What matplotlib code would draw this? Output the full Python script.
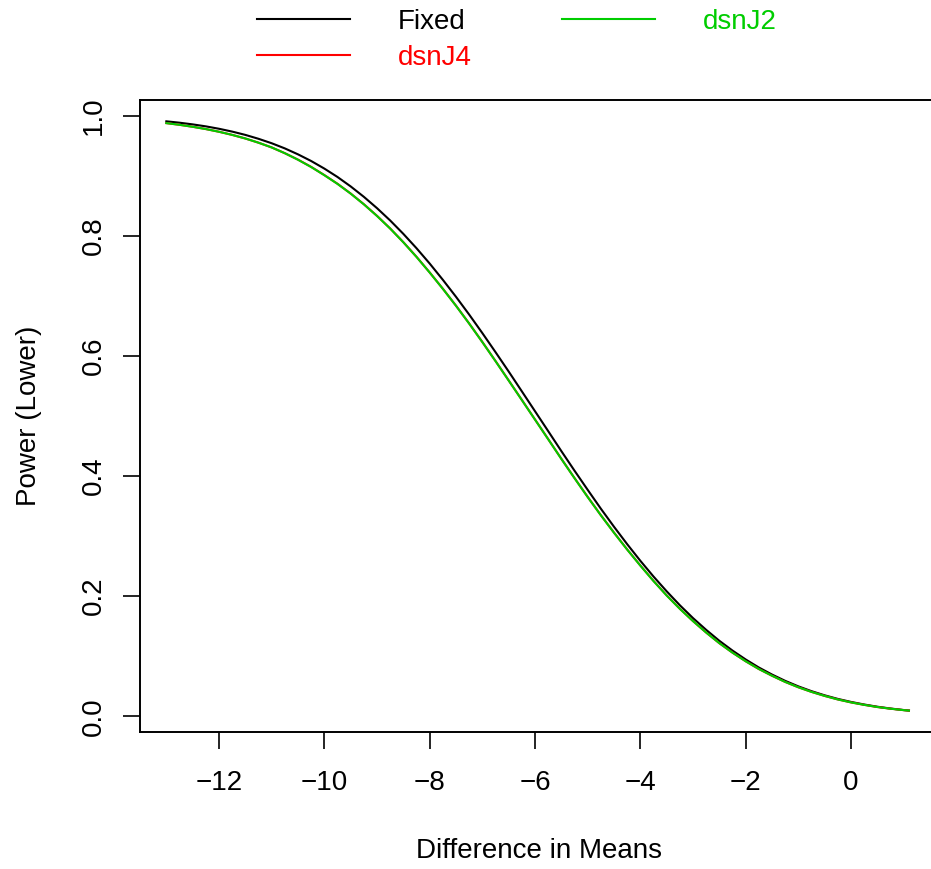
import matplotlib
matplotlib.use('Agg')
import matplotlib.pyplot as plt

# diferenca nas medias (eixo x)
diferenca = [-13.0, -12.75, -12.5, -12.25, -12.0, -11.75, -11.5, -11.25, -11.0, -10.75,
             -10.5, -10.25, -10.0, -9.75, -9.5, -9.25, -9.0, -8.75, -8.5, -8.25,
             -8.0, -7.75, -7.5, -7.25, -7.0, -6.75, -6.5, -6.25, -6.0, -5.75,
             -5.5, -5.25, -5.0, -4.75, -4.5, -4.25, -4.0, -3.75, -3.5, -3.25,
             -3.0, -2.75, -2.5, -2.25, -2.0, -1.75, -1.5, -1.25, -1.0, -0.75,
             -0.5, -0.25, 0.0, 0.25, 0.5, 0.75, 1.0, 1.1]

# poder (lower) de cada desenho
poder_fixed = [0.9907, 0.9884, 0.9856, 0.9823, 0.9783, 0.9736, 0.9681, 0.9616, 0.9542, 0.9456,
               0.9357, 0.9246, 0.9120, 0.8980, 0.8823, 0.8650, 0.8461, 0.8256, 0.8033, 0.7794,
               0.7539, 0.7268, 0.6985, 0.6689, 0.6381, 0.6064, 0.5741, 0.5411, 0.5080, 0.4749,
               0.4416, 0.4090, 0.3771, 0.3457, 0.3156, 0.2866, 0.2589, 0.2327, 0.2081, 0.1849,
               0.1635, 0.1439, 0.1257, 0.1094, 0.0946, 0.0812, 0.0695, 0.0590, 0.0498, 0.0418,
               0.0349, 0.0289, 0.0239, 0.0196, 0.0159, 0.0129, 0.0104, 0.0095]
poder_dsnJ4 = [0.9877, 0.9849, 0.9816, 0.9778, 0.9733, 0.9681, 0.9621, 0.9551, 0.9472, 0.9376,
               0.9269, 0.9148, 0.9012, 0.8867, 0.8705, 0.8527, 0.8333, 0.8123, 0.7895, 0.7651,
               0.7391, 0.7120, 0.6837, 0.6541, 0.6233, 0.5916, 0.5593, 0.5268, 0.4942, 0.4616,
               0.4288, 0.3967, 0.3653, 0.3349, 0.3058, 0.2778, 0.2511, 0.2254, 0.2013, 0.1791,
               0.1585, 0.1394, 0.1217, 0.1059, 0.0916, 0.0787, 0.0675, 0.0572, 0.0483, 0.0406,
               0.0339, 0.0280, 0.0231, 0.0190, 0.0154, 0.0126, 0.0102, 0.0095]
poder_dsnJ2 = [0.9877, 0.9849, 0.9816, 0.9778, 0.9733, 0.9681, 0.9621, 0.9551, 0.9472, 0.9376,
               0.9267, 0.9146, 0.9010, 0.8865, 0.8703, 0.8525, 0.8331, 0.8121, 0.7893, 0.7649,
               0.7389, 0.7118, 0.6835, 0.6539, 0.6231, 0.5914, 0.5591, 0.5266, 0.4940, 0.4614,
               0.4286, 0.3965, 0.3651, 0.3347, 0.3056, 0.2776, 0.2509, 0.2252, 0.2011, 0.1789,
               0.1585, 0.1394, 0.1217, 0.1059, 0.0916, 0.0787, 0.0675, 0.0572, 0.0483, 0.0406,
               0.0339, 0.0280, 0.0231, 0.0190, 0.0154, 0.0126, 0.0102, 0.0095]

series = ['Fixed', 'dsnJ4', 'dsnJ2']
cores = ['black', '#FF0000', '#00CD00']

xticks = [-12, -10, -8, -6, -4, -2, 0]
yticks = [0.0, 0.2, 0.4, 0.6, 0.8, 1.0]


def main():
    plt.rcParams['font.family'] = ['Liberation Sans', 'DejaVu Sans']
    plt.rcParams['font.size'] = 20

    fig = plt.figure(figsize=(9.31, 8.69), dpi=100)
    # caixa do grafico estilo R (lado direito fica fora da figura)
    ax = fig.add_axes([140 / 931, 137 / 869, 798 / 931, 632 / 869])

    for nome, y, cor in zip(series, [poder_fixed, poder_dsnJ4, poder_dsnJ2], cores):
        ax.plot(diferenca, y, color=cor, lw=1.5, label=nome)

    ax.set_xlim(-13.50, 1.652)
    ax.set_ylim(-0.0262, 1.0262)

    ax.set_xticks(xticks)
    ax.set_xticklabels([str(t).replace('-', '\u2212') for t in xticks])
    ax.set_yticks(yticks)
    ax.set_yticklabels([f'{t:.1f}' for t in yticks], rotation=90, va='center')

    ax.tick_params(direction='out', length=12.2, width=1.2, pad=15)
    ax.tick_params(axis='y', pad=12)
    for lado in ['top', 'left', 'bottom']:
        ax.spines[lado].set_linewidth(1.4)
    ax.spines['right'].set_visible(False)

    ax.set_xlabel('Difference in Means')
    ax.xaxis.set_label_coords(0.5, -0.188)
    ax.xaxis.label.set_va('center')
    ax.set_ylabel('Power (Lower)')
    ax.yaxis.set_label_coords(-0.1392, 0.5)
    ax.yaxis.label.set_va('center')

    fig.legend(loc='upper left', bbox_to_anchor=(257 / 931, 1 - 9 / 869), ncol=2,
               frameon=False, borderpad=0, borderaxespad=0, handlelength=3.35,
               handletextpad=1.72, columnspacing=3.25, labelspacing=0.36,
               labelcolor='linecolor')

    fig.savefig('out.png', dpi=100)


if __name__ == '__main__':
    main()
